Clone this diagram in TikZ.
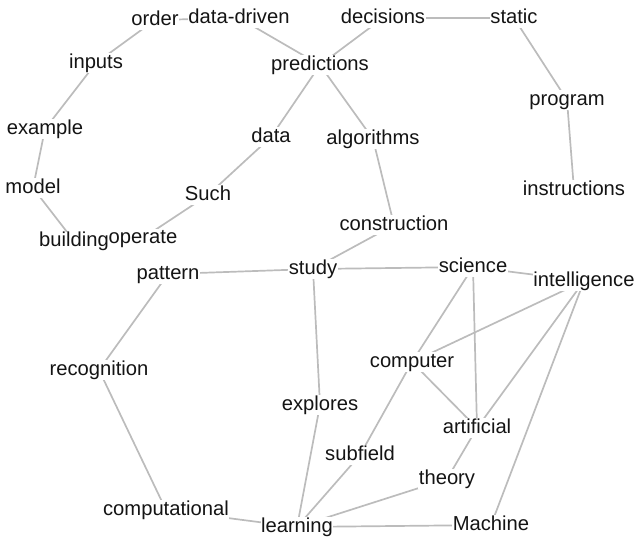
\documentclass[tikz,border=0pt]{standalone}
\usepackage{fontspec}
\setmainfont{Liberation Sans}
\usetikzlibrary{backgrounds}
\definecolor{edgegray}{RGB}{188,188,188}
\definecolor{txt}{RGB}{20,20,20}
\tikzset{
  word/.style={fill=white, inner sep=0.5pt, text height=14.5pt, text depth=4pt,
    font=\fontsize{20.2}{21}\selectfont, text=txt},
  link/.style={draw=edgegray, line width=1.7pt}
}
\begin{document}
\begin{tikzpicture}[x=1pt,y=-1pt]
\useasboundingbox (0,0) rectangle (634,536);
\node[word] (order) at (155,20) {order};
\node[word] (datadriven) at (239,18) {data-driven};
\node[word] (decisions) at (383,18) {decisions};
\node[word] (static) at (514,18) {static};
\node[word] (inputs) at (96,63) {inputs};
\node[word] (predictions) at (320,65) {predictions};
\node[word] (program) at (567,100) {program};
\node[word] (example) at (45,129) {example};
\node[word] (data) at (271,137) {data};
\node[word] (algorithms) at (373,139) {algorithms};
\node[word] (model) at (33,188) {model};
\node[word] (such) at (208,195) {Such};
\node[word] (instructions) at (574,190) {instructions};
\node[word] (construction) at (394,225) {construction};
\node[word, inner sep=0pt] (operate) at (143,238) {operate};
\node[word, inner sep=0pt] (building) at (74,241) {building};
\node[word] (pattern) at (168,274) {pattern};
\node[word] (study) at (313,269) {study};
\node[word] (science) at (473,267) {science};
\node[word] (intelligence) at (584,281) {intelligence};
\node[word] (computer) at (412,362) {computer};
\node[word] (recognition) at (99,370) {recognition};
\node[word] (explores) at (320,405) {explores};
\node[word] (artificial) at (477,428) {artificial};
\node[word] (subfield) at (360,455) {subfield};
\node[word] (theory) at (447,479) {theory};
\node[word] (computational) at (166,510) {computational};
\node[word] (learning) at (297,527) {learning};
\node[word] (machine) at (491,525) {Machine};
\begin{scope}[on background layer]
\foreach \a/\b in {order/datadriven, inputs/order, inputs/example, example/model,
  model/building, operate/such, such/data, data/predictions,
  datadriven/predictions, decisions/predictions, decisions/static,
  static/program, program/instructions, predictions/algorithms,
  algorithms/construction, construction/study, pattern/study,
  study/science, science/intelligence, science/computer, science/artificial,
  intelligence/computer, intelligence/artificial, intelligence/machine,
  computer/artificial, computer/subfield, subfield/learning,
  artificial/theory, theory/learning, learning/machine,
  study/explores, explores/learning, pattern/recognition,
  recognition/computational, computational/learning}
  \draw[link] (\a.center) -- (\b.center);
\end{scope}
\end{tikzpicture}
\end{document}
